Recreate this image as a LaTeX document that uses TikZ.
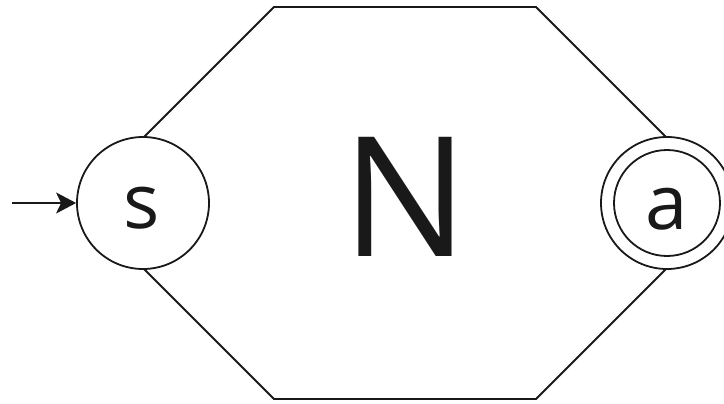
\documentclass[tikz,border=0pt]{standalone}
\usepackage{fontspec}
\setmainfont{Open Sans}
\usetikzlibrary{arrows.meta}
\begin{document}
\begin{tikzpicture}[x=1pt,y=-1pt,
  line/.style={line width=1.8pt,draw=black!90},
  state/.style={circle,line,fill=white,minimum size=132pt,inner sep=0pt},
  inner/.style={circle,line,minimum size=106pt,inner sep=0pt},
  lbl/.style={inner sep=0pt,anchor=base,font=\fontsize{76}{76}\selectfont,text=black!90}]
\useasboundingbox (0,0) rectangle (724,404);
\coordinate (h1) at (274,7);
\coordinate (h2) at (536,7);
\coordinate (h3) at (732,203);
\coordinate (h4) at (536,399);
\coordinate (h5) at (274,399);
\coordinate (h6) at (78,203);
\draw[line,line join=miter] (h1) -- (h2) -- (h3) -- (h4) -- (h5) -- (h6) -- cycle;
\node[state] (s) at (143,203) {};
\node[state] (a) at (667,203) {};
\node[inner] (ai) at (667,203) {};
\node[lbl] (sl) at (142,228) {s};
\node[lbl] (al) at (667,229) {a};
\node[inner sep=0pt,anchor=base,font=\fontsize{167}{167}\selectfont,text=black!90] (N) at (405,256) {N};
\coordinate (in) at (12,203);
\draw[line,-{Stealth[length=20pt,width=21pt,inset=5pt]}] (in) -- (s.west);
\end{tikzpicture}
\end{document}
